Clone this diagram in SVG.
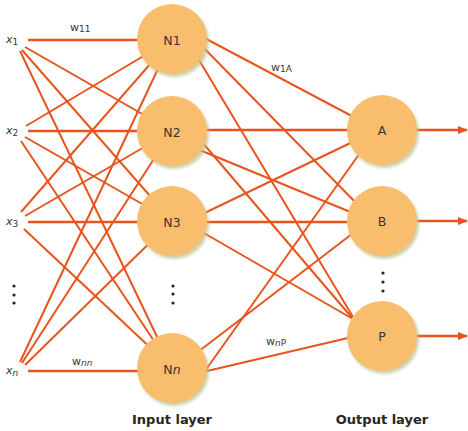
<svg xmlns="http://www.w3.org/2000/svg" width="468" height="431" viewBox="0 0 468 431">
<defs>
<style>
.c{stroke:#E8541C;stroke-width:2;fill:none;stroke-linecap:butt}
.h{stroke-width:2.6}
.n{fill:#F9BD6E}
.sh{fill:#B9BE86;opacity:0.7;filter:url(#blur)}
.t{font-family:"DejaVu Sans","Liberation Sans",sans-serif;font-size:12.5px;fill:#3a3530;text-anchor:middle}
.lbl{font-family:"DejaVu Sans","Liberation Sans",sans-serif;font-size:11px;fill:#3a3530}
.ly{font-family:"DejaVu Sans","Liberation Sans",sans-serif;font-size:13px;font-weight:bold;fill:#2a2520;text-anchor:middle}
.d{fill:#222}
</style>
<filter id="blur" x="-20%" y="-20%" width="140%" height="140%"><feGaussianBlur stdDeviation="1.8"/></filter>
<marker id="ah" markerWidth="10" markerHeight="8" refX="9" refY="4" orient="auto" markerUnits="userSpaceOnUse"><path d="M0,0 L10,4 L0,8 Z" fill="#E8541C"/></marker>
</defs>
<rect width="468" height="431" fill="#fff"/>
<g id="connectors">
<!-- x1 -->
<line class="c h" x1="28" y1="40" x2="172" y2="40"/>
<line class="c" x1="25" y1="47" x2="172" y2="131"/>
<line class="c" x1="22" y1="50" x2="172" y2="221"/>
<line class="c" x1="20" y1="51" x2="172" y2="368"/>
<!-- x2 -->
<line class="c" x1="26" y1="126" x2="172" y2="39"/>
<line class="c h" x1="28" y1="131" x2="172" y2="131"/>
<line class="c" x1="25" y1="137" x2="172" y2="221"/>
<line class="c" x1="21" y1="141" x2="172" y2="368"/>
<!-- x3 -->
<line class="c" x1="21" y1="212" x2="172" y2="39"/>
<line class="c" x1="25" y1="216" x2="172" y2="131"/>
<line class="c h" x1="28" y1="222" x2="172" y2="222"/>
<line class="c" x1="24" y1="229" x2="172" y2="368"/>
<!-- xn -->
<line class="c" x1="20" y1="362" x2="172" y2="39"/>
<line class="c" x1="22" y1="363" x2="172" y2="131"/>
<line class="c" x1="25" y1="365" x2="172" y2="221"/>
<line class="c h" x1="28" y1="371" x2="172" y2="371"/>
<!-- hidden to output -->
<line class="c" x1="195" y1="33" x2="365" y2="123"/>
<line class="c" x1="195" y1="39" x2="365" y2="212"/>
<line class="c" x1="190" y1="45" x2="365" y2="337"/>
<line class="c h" x1="172" y1="130" x2="382" y2="130"/>
<line class="c" x1="190" y1="146" x2="365" y2="218"/>
<line class="c" x1="190" y1="128" x2="365" y2="333"/>
<line class="c" x1="190" y1="220" x2="365" y2="136"/>
<line class="c h" x1="172" y1="222" x2="382" y2="222"/>
<line class="c" x1="190" y1="225" x2="365" y2="326"/>
<line class="c" x1="195" y1="385" x2="365" y2="146"/>
<line class="c" x1="190" y1="358" x2="365" y2="224"/>
<line class="c" x1="190" y1="375" x2="365" y2="334"/>
<!-- outputs -->
<line class="c h" x1="410" y1="130" x2="467" y2="130" marker-end="url(#ah)"/>
<line class="c h" x1="410" y1="221" x2="467" y2="221" marker-end="url(#ah)"/>
<line class="c h" x1="410" y1="336" x2="467" y2="336" marker-end="url(#ah)"/>
</g>
<g id="N1"><circle class="sh" cx="174" cy="42" r="35"/><circle class="n" cx="172" cy="39" r="35"/><text class="t" x="172" y="45">N1</text></g>
<g id="N2"><circle class="sh" cx="174" cy="134" r="35"/><circle class="n" cx="172" cy="131" r="35"/><text class="t" x="172" y="137">N2</text></g>
<g id="N3"><circle class="sh" cx="174" cy="224" r="35"/><circle class="n" cx="172" cy="221" r="35"/><text class="t" x="172" y="227">N3</text></g>
<g id="Nn"><circle class="sh" cx="174" cy="371" r="35"/><circle class="n" cx="172" cy="368" r="35"/><text class="t" x="172" y="374">N<tspan font-style="italic">n</tspan></text></g>
<g id="A"><circle class="sh" cx="384" cy="133" r="35"/><circle class="n" cx="382" cy="130" r="35"/><text class="t" x="382" y="135">A</text></g>
<g id="B"><circle class="sh" cx="384" cy="224" r="35"/><circle class="n" cx="382" cy="221" r="35"/><text class="t" x="382" y="226">B</text></g>
<g id="P"><circle class="sh" cx="384" cy="339" r="35"/><circle class="n" cx="382" cy="336" r="35"/><text class="t" x="382" y="341">P</text></g>
<g id="labels">
<text class="lbl" x="6" y="43"><tspan font-style="italic">x</tspan><tspan dy="2" font-size="9">1</tspan></text>
<text class="lbl" x="6" y="134"><tspan font-style="italic">x</tspan><tspan dy="2" font-size="9">2</tspan></text>
<text class="lbl" x="6" y="225"><tspan font-style="italic">x</tspan><tspan dy="2" font-size="9">3</tspan></text>
<text class="lbl" x="6" y="374"><tspan font-style="italic">x</tspan><tspan dy="2" font-size="9" font-style="italic">n</tspan></text>
<text class="lbl" x="70" y="31">w<tspan dy="1" font-size="9">11</tspan></text>
<text class="lbl" x="271" y="71">w<tspan dy="1" font-size="9">1A</tspan></text>
<text class="lbl" x="72" y="365">w<tspan dy="1" font-size="9" font-style="italic">nn</tspan></text>
<text class="lbl" x="266" y="345">w<tspan dy="1" font-size="9"><tspan font-style="italic">n</tspan>P</tspan></text>
<text class="ly" x="172" y="424">Input layer</text>
<text class="ly" x="382" y="424">Output layer</text>
</g>
<g id="dots">
<circle class="d" cx="14" cy="286" r="1.6"/><circle class="d" cx="14" cy="295" r="1.6"/><circle class="d" cx="14" cy="303" r="1.6"/>
<circle class="d" cx="173" cy="286" r="1.6"/><circle class="d" cx="173" cy="294" r="1.6"/><circle class="d" cx="173" cy="303" r="1.6"/>
<circle class="d" cx="383" cy="273" r="1.6"/><circle class="d" cx="383" cy="282" r="1.6"/><circle class="d" cx="383" cy="291" r="1.6"/>
</g>
</svg>
